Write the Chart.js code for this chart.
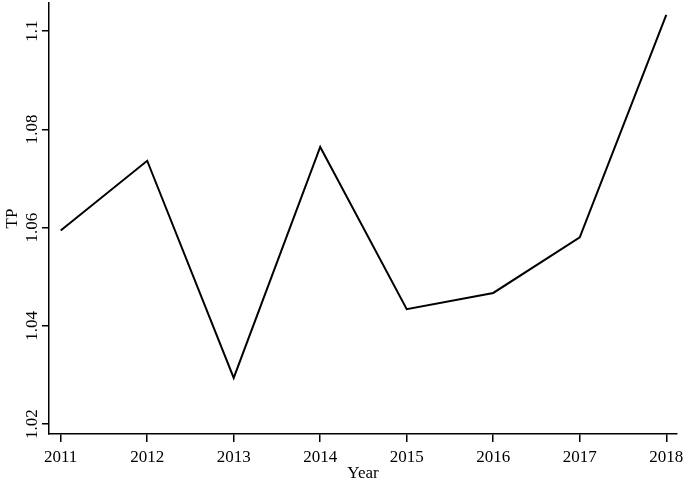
<!DOCTYPE html>
<html lang="en">
<head>
  <meta charset="UTF-8">
  <title>TP by Year</title>
  <script src="https://cdn.jsdelivr.net/npm/chart.js"></script>
  <style>
    html, body { margin: 0; padding: 0; background: #fff; }
    canvas { display: block; }
  </style>
</head>
<body>
  <canvas id="tpChart" width="685" height="484"></canvas>

  <script>
    const years = [2011, 2012, 2013, 2014, 2015, 2016, 2017, 2018];
    const tpValues = [1.0594, 1.0736, 1.0294, 1.0764, 1.0434, 1.0467, 1.0580, 1.1033];
    const yTicks = [1.02, 1.04, 1.06, 1.08, 1.1];

    const font = { family: "'Liberation Serif', 'Times New Roman', serif", size: 17 };

    new Chart(document.getElementById("tpChart"), {
      type: 'line',
      data: {
        datasets: [{
          label: "TP",
          data: years.map((y, i) => ({ x: y, y: tpValues[i] })),
          borderColor: "#000",
          borderWidth: 2,
          pointRadius: 0,
          tension: 0
        }]
      },
      options: {
        responsive: false,
        animation: false,
        events: [],
        layout: { padding: { top: 3, right: 8, left: 0, bottom: 0 } },
        plugins: { legend: { display: false }, tooltip: { enabled: false } },
        scales: {
          x: {
            type: 'linear',
            min: 2011 - 0.135,
            max: 2018 + 0.124,
            afterBuildTicks: s => { s.ticks = years.map(v => ({ value: v })); },
            afterFit: s => { s.height = 50; s.paddingLeft = 0; s.paddingRight = 0; },
            ticks: { color: '#000', font, padding: 5, autoSkip: false, minRotation: 0, maxRotation: 0, callback: v => String(v) },
            grid: { drawOnChartArea: false, color: '#000', tickLength: 8, lineWidth: 1.5 },
            border: { color: '#000', width: 1.5 },
            title: { display: true, text: 'Year', color: '#000', font, padding: { top: -2, bottom: 0 } }
          },
          y: {
            min: 1.018,
            max: 1.1057,
            afterBuildTicks: s => { s.ticks = yTicks.map(v => ({ value: v })); },
            afterFit: s => { s.width = 49; s.paddingTop = 0; s.paddingBottom = 0; },
            ticks: {
              color: '#000', font, padding: -5, autoSkip: false,
              minRotation: 90, maxRotation: 90, crossAlign: 'center',
              callback: v => String(Math.round(v * 100) / 100)
            },
            grid: { drawOnChartArea: false, color: '#000', tickLength: 7, lineWidth: 1.5 },
            border: { color: '#000', width: 1.5 },
            title: { display: true, text: 'TP', color: '#000', font, padding: { top: 2, bottom: 0 } }
          }
        }
      }
    });
  </script>
</body>
</html>
